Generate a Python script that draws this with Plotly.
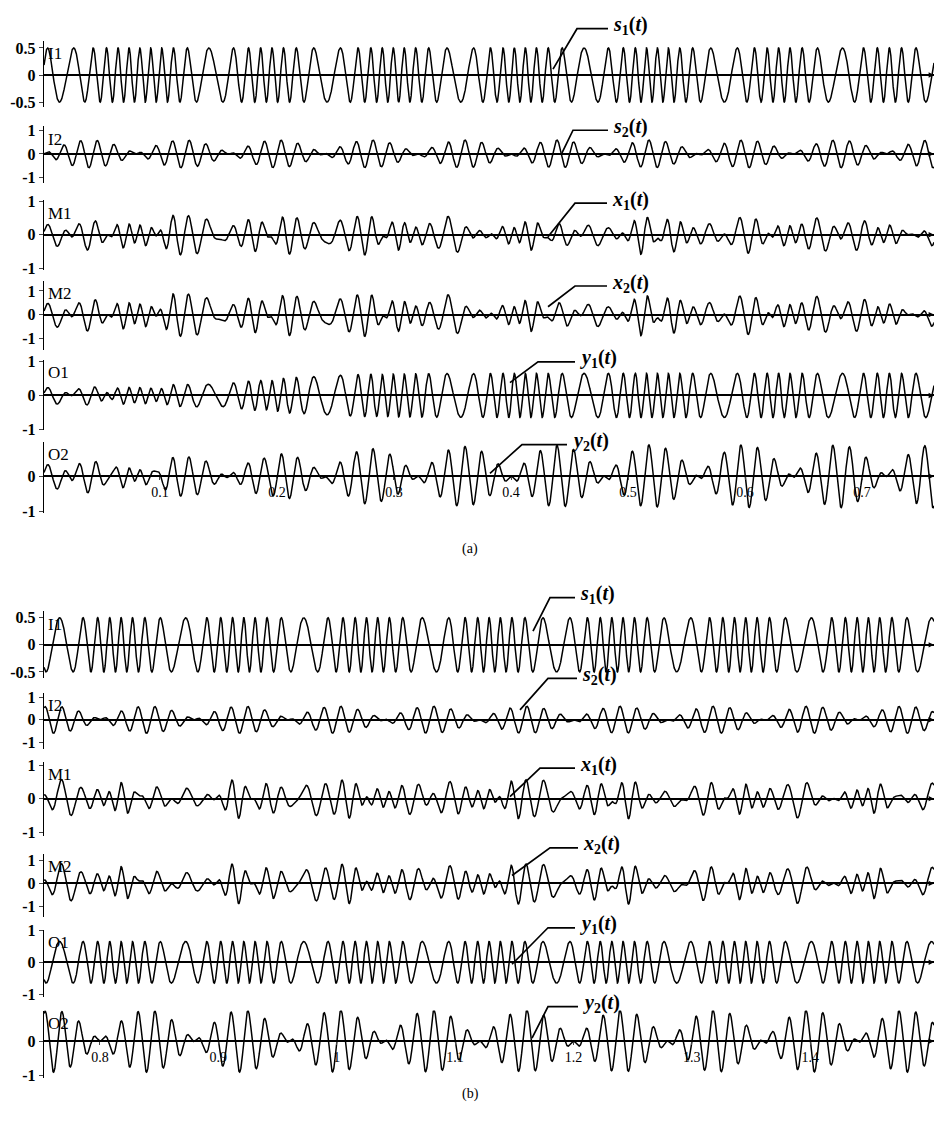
import numpy as np
import plotly.graph_objects as go

# ---------------- data ----------------
SPAN_A = [0.0009, 0.7615]
SPAN_B = [0.7527, 1.5046]
TICKS_A = [0.1, 0.2, 0.3, 0.4, 0.5, 0.6, 0.7]
TICKTEXT_A = ["0.1", "0.2", "0.3", "0.4", "0.5", "0.6", "0.7"]
TICKS_B = [0.8, 0.9, 1.0, 1.1, 1.2, 1.3, 1.4]
TICKTEXT_B = ["0.8", "0.9", "1", "1.1", "1.2", "1.3", "1.4"]

# source s1: FM sinusoid, fast carrier with periodic slow dips
S1_AMP = [0.5]
S1_FREQ = [109.0, 40.0]            # fast, slow (Hz)
S1_DIP_WIDTH = [0.027]
S1_SLOW_CENTERS = [0.019, 0.145, 0.243, 0.355, 0.465, 0.581, 0.679,
                   0.766, 0.868, 0.974, 1.080, 1.185, 1.290, 1.395, 1.500]
# source s2: amplitude-modulated sinusoid (beats)
S2_AMP = [0.6]
S2_FREQ = [6.25, 70.0]             # envelope, carrier (Hz)
# mixing matrix
MIX = [[0.50, 0.60],
       [0.78, 0.90]]
# separation: global gains y = G(t) s
G_START = [[0.36, 0.50], [0.56, 0.63]]
G_END = [[1.30, 0.00], [0.00, 1.50]]
G_TIME = [[0.18, 0.08], [0.12, 0.21]]
G_WIDTH = [0.04, 0.06]

ROW_NAMES = ["I1", "I2", "M1", "M2", "O1", "O2"]
CURVE_LABELS = ["<b><i>s</i><sub>1</sub>(<i>t</i>)</b>", "<b><i>s</i><sub>2</sub>(<i>t</i>)</b>",
                "<b><i>x</i><sub>1</sub>(<i>t</i>)</b>", "<b><i>x</i><sub>2</sub>(<i>t</i>)</b>",
                "<b><i>y</i><sub>1</sub>(<i>t</i>)</b>", "<b><i>y</i><sub>2</sub>(<i>t</i>)</b>"]

# ---------------- layout (pixels of the 939x1129 page) ----------------
W, H = 939, 1129
X0PX, X1PX = 44, 934
# (zero line px, px per unit, axis top px, axis bottom px)
ROWS_A = [(68, 55, 33, 100), (148, 23.5, 120, 178), (230, 34, 195, 266),
          (311, 24, 277, 347), (393, 34.5, 357, 428), (475, 35.5, 440, 512)]
ROWS_B = [(646, 55, 612, 680), (722, 23, 695, 752), (802, 34, 765, 840),
          (888, 23, 858, 922), (968, 32.5, 935, 1003), (1048, 35, 1017, 1085)]
# leader lines in page pixels: (tip x, tip y, bend x, bend y, end x)
LEAD_A = [(553, 62, 577, 21, 608), (562, 147, 573, 124, 608),
          (548, 232, 575, 198, 607), (548, 303, 575, 282, 607),
          (510, 380, 538, 359, 575), (490, 472, 522, 443, 567)]
LEAD_B = [(533, 632, 550, 598, 575), (520, 712, 548, 680, 577),
          (510, 800, 540, 771, 575), (512, 880, 550, 852, 578),
          (512, 970, 548, 933, 575), (532, 1045, 548, 1013, 578)]

# ---------------- signals ----------------
tg = np.linspace(0.0, 1.52, 60001)
dt = tg[1] - tg[0]
dip = np.zeros_like(tg)
for c in S1_SLOW_CENTERS:
    dip += np.exp(-((tg - c) / S1_DIP_WIDTH[0]) ** 2)
dip = np.clip(dip, 0, 1)
freq = S1_FREQ[0] - (S1_FREQ[0] - S1_FREQ[1]) * dip
phase = 2 * np.pi * np.concatenate([[0.0], np.cumsum(freq[:-1]) * dt])
s1g = S1_AMP[0] * np.sin(phase)
s2g = S2_AMP[0] * np.sin(2 * np.pi * S2_FREQ[0] * tg) * np.sin(2 * np.pi * S2_FREQ[1] * tg)


def logistic(t, c, w):
    return 1.0 / (1.0 + np.exp(-(t - c) / w))


g11 = G_START[0][0] + (G_END[0][0] - G_START[0][0]) * logistic(tg, G_TIME[0][0], G_WIDTH[0])
g12 = G_START[0][1] * np.exp(-tg / G_TIME[0][1])
g21 = G_START[1][0] * np.exp(-tg / G_TIME[1][0])
g22 = G_START[1][1] + (G_END[1][1] - G_START[1][1]) * logistic(tg, G_TIME[1][1], G_WIDTH[1])

x1g = MIX[0][0] * s1g + MIX[0][1] * s2g
x2g = MIX[1][0] * s1g + MIX[1][1] * s2g
y1g = g11 * s1g + g12 * s2g
y2g = g21 * s1g + g22 * s2g
SIGS = [s1g, s2g, x1g, x2g, y1g, y2g]

# ---------------- figure ----------------
fig = go.Figure()
layout = dict(width=W, height=H, margin=dict(l=0, r=0, t=0, b=0),
              paper_bgcolor="white", plot_bgcolor="white", showlegend=False)
annotations = []
shapes = []
FONT = "Liberation Serif, Times New Roman, serif"


def px(x):
    return x / W


def py(y):
    return 1 - y / H


k = 0
for part, (rows, span, leads) in enumerate([(ROWS_A, SPAN_A, LEAD_A), (ROWS_B, SPAN_B, LEAD_B)]):
    mask = (tg >= span[0]) & (tg <= span[1])
    for r, (zero, unit, top, bot) in enumerate(rows):
        k += 1
        xa = "x" if k == 1 else f"x{k}"
        ya = "y" if k == 1 else f"y{k}"
        xkey = "xaxis" if k == 1 else f"xaxis{k}"
        ykey = "yaxis" if k == 1 else f"yaxis{k}"
        rmax = (zero - top) / unit
        rmin = -(bot - zero) / unit
        fig.add_trace(go.Scatter(x=tg[mask], y=SIGS[r][mask], mode="lines",
                                 line=dict(color="black", width=1.5),
                                 xaxis=xa, yaxis=ya, hoverinfo="skip"))
        last = (r == 5)
        layout[xkey] = dict(domain=[X0PX / W, X1PX / W], range=span, anchor="free",
                            position=py(zero), showline=True, linecolor="black",
                            linewidth=1.5, showgrid=False, zeroline=False,
                            ticks="outside" if last else "", ticklen=3,
                            tickvals=(TICKS_A if part == 0 else TICKS_B) if last else [],
                            ticktext=(TICKTEXT_A if part == 0 else TICKTEXT_B) if last else [],
                            tickfont=dict(family=FONT, size=14, color="black"))
        tv = [0.5, 0, -0.5] if r == 0 else [1, 0, -1]
        tt = ["0.5", "0", "-0.5"] if r == 0 else ["1", "0", "-1"]
        layout[ykey] = dict(domain=[py(bot), py(top)], range=[rmin, rmax], anchor=xa,
                            showline=True, linecolor="black", linewidth=1.4,
                            showgrid=False, zeroline=False, ticks="outside", ticklen=4,
                            tickvals=tv, ticktext=tt,
                            tickfont=dict(family=FONT, size=16, color="black", weight="bold"))
        annotations.append(dict(x=1, y=0, xref=f"{xa} domain", yref=ya, text="",
                                showarrow=True, ax=-9, ay=0, axref="pixel", ayref="pixel",
                                arrowhead=2, arrowsize=0.9, arrowwidth=1.2, arrowcolor="black"))
        annotations.append(dict(x=px(X0PX + 2), y=py(top + 13), xref="paper", yref="paper",
                                text=ROW_NAMES[r], showarrow=False, xanchor="left",
                                yanchor="middle",
                                font=dict(family=FONT, size=17, color="black")))
        tx, ty, bx, by, ex = leads[r]
        shapes.append(dict(type="path", xref="paper", yref="paper",
                           path=f"M {px(tx)} {py(ty)} L {px(bx)} {py(by)} L {px(ex)} {py(by)}",
                           line=dict(color="black", width=1.7)))
        annotations.append(dict(x=px(ex + 3), y=py(by - 3), xref="paper", yref="paper",
                                text=CURVE_LABELS[r], showarrow=False, xanchor="left",
                                yanchor="middle",
                                font=dict(family=FONT, size=20, color="black")))

annotations.append(dict(x=px(470), y=py(549), xref="paper", yref="paper", text="(a)",
                        showarrow=False, font=dict(family=FONT, size=14, color="black")))
annotations.append(dict(x=px(470), y=py(1112), xref="paper", yref="paper", text="(b)",
                        showarrow=False, font=dict(family=FONT, size=14, color="black")))
layout["annotations"] = annotations
layout["shapes"] = shapes
fig.update_layout(**layout)
fig.write_html("out.html")
